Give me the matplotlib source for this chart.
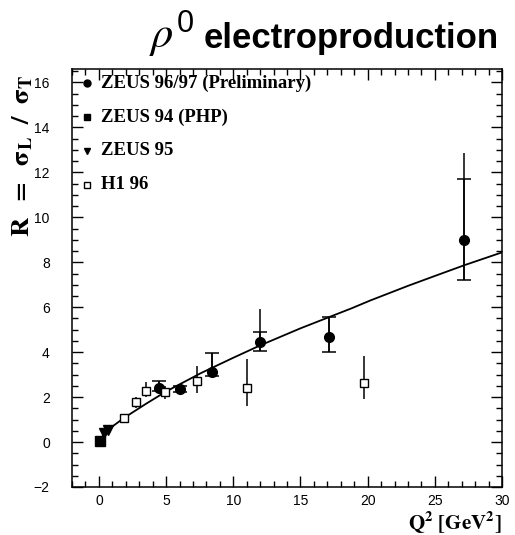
import matplotlib
matplotlib.use("Agg")
import matplotlib.pyplot as plt
from matplotlib.ticker import MultipleLocator

plt.rcParams['mathtext.fontset'] = 'stix'

# ZEUS 96/97 (Preliminary) - filled circles
zeus9697_q2 = [4.5, 6.0, 8.4, 12.0, 17.1, 27.2]
zeus9697_r = [2.40, 2.36, 3.13, 4.44, 4.67, 8.98]
zeus9697_err_lo = [0.15, 0.12, 0.18, 0.40, 0.67, 1.78]
zeus9697_err_hi = [0.33, 0.12, 0.82, 0.45, 0.90, 2.71]
zeus9697_tot_hi = [0.33, 0.12, 0.82, 1.47, 0.90, 3.86]

# ZEUS 94 (PHP) - filled square
zeus94_q2 = [0.05]
zeus94_r = [0.04]

# ZEUS 95 - filled triangles
zeus95_q2 = [0.35, 0.7]
zeus95_r = [0.42, 0.53]

# H1 96 - open squares
h1_q2 = [1.86, 2.75, 3.5, 4.9, 7.3, 11.0, 19.7]
h1_r = [1.07, 1.78, 2.27, 2.22, 2.71, 2.42, 2.62]
h1_err_lo = [0.10, 0.26, 0.27, 0.30, 0.51, 0.82, 0.71]
h1_err_hi = [0.10, 0.22, 0.40, 0.27, 0.67, 1.27, 1.20]

# Fit curve
curve_q2 = [0.1, 0.3, 1.0, 1.86, 3.5, 5.0, 7.6, 10.0, 12.0, 15.0, 18.8, 20.2, 23.0, 25.0, 27.2, 30.0]
curve_r = [0.12, 0.28, 0.69, 1.07, 1.70, 2.25, 3.07, 3.75, 4.30, 5.06, 5.95, 6.30, 6.95, 7.39, 7.87, 8.44]

legend_labels = ['ZEUS 96/97 (Preliminary)', 'ZEUS 94 (PHP)', 'ZEUS 95', 'H1 96']

fig = plt.figure(figsize=(5.15, 5.35), dpi=100)
ax = fig.add_axes([72/515, 1-487/535, 430/515, 418/535])

ax.plot(curve_q2, curve_r, color='black', lw=1.3, zorder=2)

ax.errorbar(zeus9697_q2, zeus9697_r, yerr=[zeus9697_err_lo, zeus9697_tot_hi],
            fmt='none', ecolor='black', elinewidth=1.1, capsize=0, zorder=3)
ax.errorbar(zeus9697_q2, zeus9697_r, yerr=[zeus9697_err_lo, zeus9697_err_hi],
            fmt='o', color='black', ms=7, elinewidth=1.1, capsize=5, capthick=1.1, zorder=4)
ax.errorbar(h1_q2, h1_r, yerr=[h1_err_lo, h1_err_hi], fmt='s', mfc='white', mec='black',
            mew=1.0, ms=5.5, ecolor='black', elinewidth=1.1, capsize=0, zorder=4)
ax.plot(zeus94_q2, zeus94_r, 's', color='black', ms=6.5, zorder=5)
ax.plot(zeus95_q2, zeus95_r, 'v', color='black', ms=6.5, zorder=5)

ax.set_xlim(-2, 30)
ax.set_ylim(-2, 16.6)
ax.xaxis.set_major_locator(MultipleLocator(5))
ax.xaxis.set_minor_locator(MultipleLocator(1))
ax.yaxis.set_major_locator(MultipleLocator(2))
ax.yaxis.set_minor_locator(MultipleLocator(0.5))
ax.set_xticks([0, 5, 10, 15, 20, 25, 30])
ax.tick_params(which='both', direction='in', top=True, right=True, width=1.0)
ax.tick_params(which='major', length=8)
ax.tick_params(which='minor', length=4)
ax.tick_params(axis='y', pad=16)
ax.tick_params(axis='x', pad=5)
for lab in ax.get_xticklabels() + ax.get_yticklabels():
    lab.set_fontfamily('Liberation Sans')
    lab.set_fontsize(10)
for s in ax.spines.values():
    s.set_linewidth(1.1)

# legend (manual)
leg_y = [0.9665, 0.885, 0.804, 0.7225]
leg_markers = [dict(marker='o', color='black', ms=5),
               dict(marker='s', color='black', ms=5),
               dict(marker='v', color='black', ms=5),
               dict(marker='s', mfc='white', mec='black', mew=1.0, ms=5)]
for yy, lab, mk in zip(leg_y, legend_labels, leg_markers):
    ax.plot([0.035], [yy], transform=ax.transAxes, ls='none', clip_on=False, **mk)
    ax.text(0.067, yy, lab, transform=ax.transAxes, fontfamily='Liberation Serif',
            fontweight='bold', fontsize=13.5, va='center', ha='left')

fig.text(502/515, 1-523/535, r'$\mathbf{Q^2\ [GeV^2]}$', fontsize=15, ha='right', va='center')
fig.text(22/515, 1-156/535, r'$\mathbf{R\ \ =\ \ \sigma_L\ \ /\ \ \sigma_T}$', rotation=90,
         fontsize=19, ha='center', va='center')

fig.text(149/515, 1-47/535, r'$\rho$', fontsize=32, ha='left', va='baseline')
fig.text(177/515, 1-32/535, '0', fontfamily='Liberation Sans', fontsize=22, ha='left', va='baseline')
fig.text(204/515, 1-48/535, 'electroproduction', fontfamily='Liberation Sans',
         fontweight='bold', fontsize=25, ha='left', va='baseline')

fig.savefig('out.png', dpi=100)
